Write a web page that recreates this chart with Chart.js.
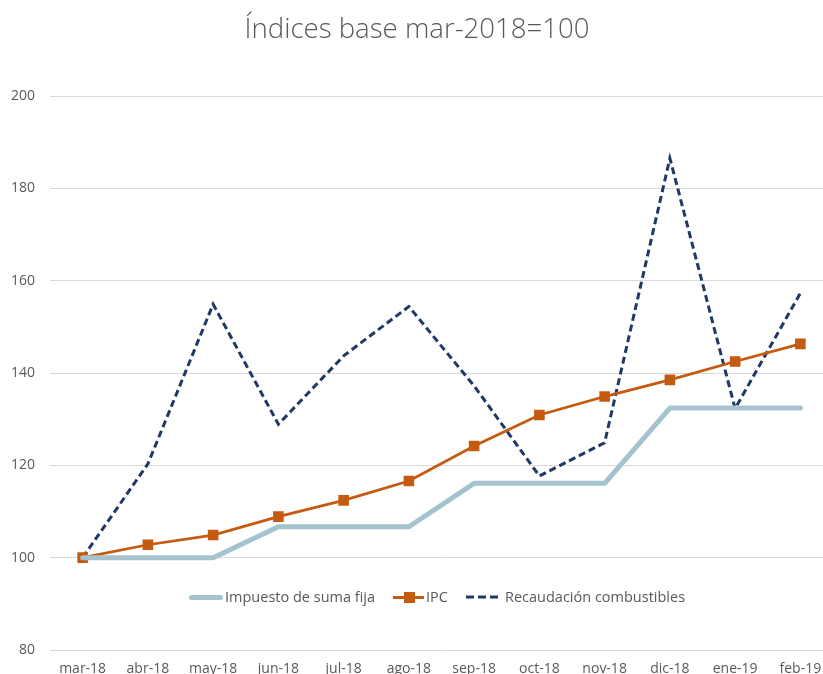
<!DOCTYPE html>
<html>
<head>
<meta charset="utf-8">
<script src="https://cdn.jsdelivr.net/npm/chart.js@4"></script>
<style>
  html, body { margin: 0; padding: 0; background: #fff; overflow: hidden; }
  #wrap { position: relative; width: 834px; height: 690px; }
  #title { position: absolute; left: 0; width: 834px; top: 9px; text-align: center; line-height: 37px;
           font-family: 'Open Sans', sans-serif; font-weight: 300; font-size: 27.6px; color: #595959; }
  .lg { position: absolute; font-family: 'Open Sans', sans-serif; font-size: 14.5px; line-height: 20px;
        color: #595959; white-space: nowrap; top: 587px; }
  .sw { position: absolute; }
</style>
</head>
<body>
<div id="wrap">
  <div id="title">Índices base mar-2018=100</div>
  <canvas id="c" width="834" height="690"></canvas>
  <!-- legend -->
  <div class="sw" style="left:189px;top:595px;width:34px;height:5px;background:#A5C3CE;border-radius:2.5px"></div>
  <div class="lg" style="left:225px">Impuesto de suma fija</div>
  <div class="sw" style="left:393px;top:596px;width:31px;height:3px;background:#C55A11"></div>
  <div class="sw" style="left:404px;top:592px;width:11px;height:11px;background:#C55A11"></div>
  <div class="lg" style="left:426px">IPC</div>
  <svg class="sw" style="left:466px;top:592px" width="32" height="10"><line x1="0" y1="5" x2="32" y2="5" stroke="#1F3864" stroke-width="3" stroke-dasharray="8,4"/></svg>
  <div class="lg" style="left:505px">Recaudación combustibles</div>
</div>
<script>
var months = ['mar-18', 'abr-18', 'may-18', 'jun-18', 'jul-18', 'ago-18', 'sep-18', 'oct-18', 'nov-18', 'dic-18', 'ene-19', 'feb-19'];
var impuestoSumaFija = [100, 100, 100, 106.7, 106.7, 106.7, 116.1, 116.1, 116.1, 132.4, 132.4, 132.4];
var ipc = [100, 102.8, 104.9, 108.9, 112.4, 116.6, 124.2, 130.9, 134.9, 138.5, 142.5, 146.3];
var recaudacion = [100, 120.3, 154.9, 128.9, 143.7, 154.4, 137.2, 117.7, 124.9, 186.5, 132.3, 157.3];
var yTicks = [80, 100, 120, 140, 160, 180, 200];

var ctx = document.getElementById('c').getContext('2d');

var myChart = new Chart(ctx, {
    type: 'line',
    data: {
        labels: months,
        datasets: [
            {
                label: 'Impuesto de suma fija',
                data: impuestoSumaFija,
                borderColor: '#A5C3CE',
                borderWidth: 5,
                pointRadius: 0,
                tension: 0,
                borderJoinStyle: 'round',
                borderCapStyle: 'round'
            },
            {
                label: 'IPC',
                data: ipc,
                borderColor: '#C55A11',
                backgroundColor: '#C55A11',
                borderWidth: 2.75,
                pointStyle: 'rect',
                pointRadius: 7.5,
                pointBorderWidth: 0,
                tension: 0
            },
            {
                label: 'Recaudación combustibles',
                data: recaudacion,
                borderColor: '#1F3864',
                borderWidth: 3,
                borderDash: [7, 4],
                pointRadius: 0,
                tension: 0
            }
        ]
    },
    options: {
        responsive: false,
        animation: false,
        layout: {
            autoPadding: false,
            padding: { top: 96, left: 0, right: 1, bottom: 0 }
        },
        plugins: {
            legend: { display: false },
            title: { display: false },
            tooltip: { enabled: false }
        },
        scales: {
            y: {
                min: 80,
                max: 200,
                afterFit: function (s) { s.width = 50; },
                afterBuildTicks: function (s) { s.ticks = yTicks.map(v => ({ value: v })); },
                ticks: {
                    padding: 15,
                    font: { family: 'Open Sans', size: 14 },
                    color: '#595959'
                },
                grid: {
                    drawTicks: false,
                    color: '#D9D9D9',
                    lineWidth: 1
                },
                border: { display: false }
            },
            x: {
                offset: true,
                afterFit: function (s) {
                    s.height = 40;
                    s.paddingLeft = 0;
                    s.paddingRight = 0;
                },
                ticks: {
                    padding: 0,
                    maxRotation: 0,
                    minRotation: 0,
                    autoSkip: false,
                    font: { family: 'Open Sans', size: 14 },
                    color: '#595959'
                },
                // invisible tick marks only push the labels down
                grid: {
                    display: true,
                    drawOnChartArea: false,
                    drawTicks: true,
                    tickLength: 11,
                    color: 'rgba(0,0,0,0)'
                },
                border: { display: false }
            }
        }
    }
});
</script>
</body>
</html>
